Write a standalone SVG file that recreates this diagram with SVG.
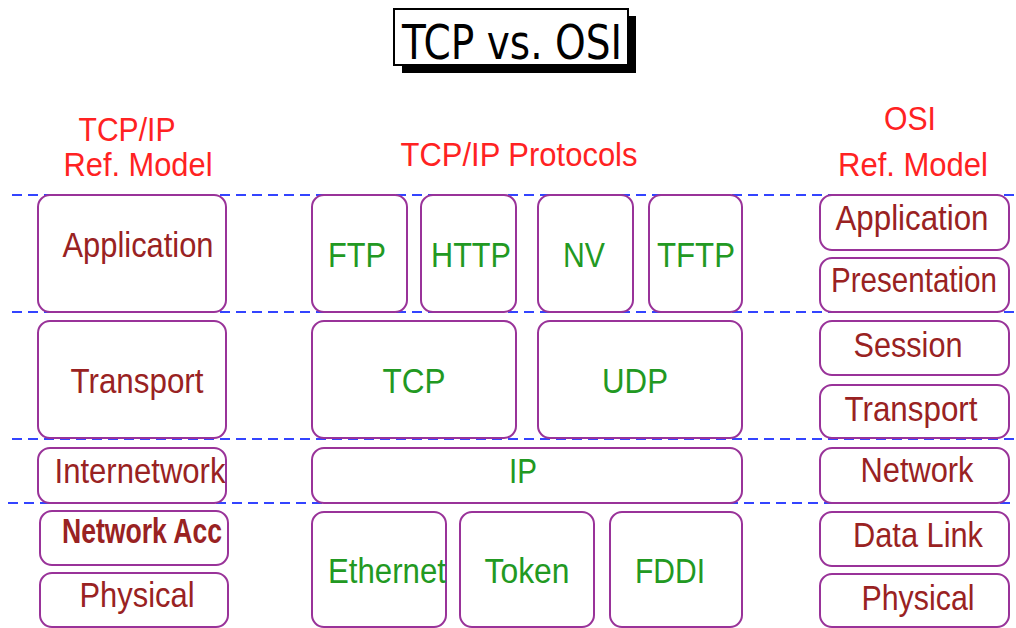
<svg xmlns="http://www.w3.org/2000/svg" width="1016" height="628" viewBox="0 0 1016 628">
  <style>
    .box { fill: #ffffff; stroke: #993399; stroke-width: 2; }
    .layer { stroke: #3344ff; stroke-width: 2; stroke-dasharray: 10 6; fill: none; }
    .lbl { font-family: "Liberation Sans", Arial, sans-serif; font-size: 35px; text-anchor: middle; }
    .ref { fill: #992222; }
    .proto { fill: #229922; }
    .head { font-family: "Liberation Sans", Arial, sans-serif; font-size: 33px; text-anchor: middle; fill: #ff2222; }
  </style>

  <rect width="1016" height="628" fill="#ffffff"/>

  <!-- title -->
  <g id="title">
    <rect x="402" y="16" width="234" height="57" fill="#000000"/>
    <rect x="394" y="9" width="234" height="56" fill="#ffffff" stroke="#000000" stroke-width="2"/>
    <text x="512" y="59" font-family="DejaVu Sans, sans-serif" font-size="48" text-anchor="middle" fill="#000000" textLength="220" lengthAdjust="spacingAndGlyphs">TCP vs. OSI</text>
  </g>

  <!-- column headings -->
  <g id="headings">
    <text class="head" x="127" y="141" textLength="97" lengthAdjust="spacingAndGlyphs">TCP/IP</text>
    <text class="head" x="138" y="176" textLength="149" lengthAdjust="spacingAndGlyphs">Ref. Model</text>
    <text class="head" x="519" y="166" textLength="237" lengthAdjust="spacingAndGlyphs">TCP/IP Protocols</text>
    <text class="head" x="910" y="130" textLength="52" lengthAdjust="spacingAndGlyphs">OSI</text>
    <text class="head" x="913" y="176" textLength="150" lengthAdjust="spacingAndGlyphs">Ref. Model</text>
  </g>

  <!-- layer boundaries -->
  <g id="layer-lines">
    <line class="layer" x1="12" y1="195" x2="1016" y2="195"/>
    <line class="layer" x1="12" y1="312" x2="1016" y2="312"/>
    <line class="layer" x1="12" y1="439" x2="1016" y2="439"/>
    <line class="layer" x1="8" y1="503" x2="1016" y2="503"/>
  </g>

  <!-- TCP/IP reference model -->
  <g id="tcpip-application"><rect class="box" x="38" y="195" width="188" height="117" rx="12"/><text class="lbl ref" x="138" y="257" textLength="151" lengthAdjust="spacingAndGlyphs">Application</text></g>
  <g id="tcpip-transport"><rect class="box" x="38" y="321" width="188" height="117" rx="12"/><text class="lbl ref" x="137" y="393" textLength="133" lengthAdjust="spacingAndGlyphs">Transport</text></g>
  <g id="tcpip-internetwork"><rect class="box" x="38" y="448" width="188" height="55" rx="12"/><text class="lbl ref" x="140" y="483" textLength="171" lengthAdjust="spacingAndGlyphs">Internetwork</text></g>
  <g id="tcpip-netaccess"><rect class="box" x="40" y="511" width="188" height="54" rx="12"/><text class="lbl ref" x="142" y="543" font-size="27" font-weight="bold" textLength="160" lengthAdjust="spacingAndGlyphs">Network Acc</text></g>
  <g id="tcpip-physical"><rect class="box" x="40" y="573" width="188" height="54" rx="12"/><text class="lbl ref" x="137" y="607" textLength="115" lengthAdjust="spacingAndGlyphs">Physical</text></g>

  <!-- protocols -->
  <g id="proto-ftp"><rect class="box" x="312" y="195" width="95" height="117" rx="12"/><text class="lbl proto" x="357" y="267" textLength="58" lengthAdjust="spacingAndGlyphs">FTP</text></g>
  <g id="proto-http"><rect class="box" x="421" y="195" width="95" height="117" rx="12"/><text class="lbl proto" x="471" y="267" textLength="80" lengthAdjust="spacingAndGlyphs">HTTP</text></g>
  <g id="proto-nv"><rect class="box" x="538" y="195" width="95" height="117" rx="12"/><text class="lbl proto" x="584" y="267" textLength="42" lengthAdjust="spacingAndGlyphs">NV</text></g>
  <g id="proto-tftp"><rect class="box" x="649" y="195" width="93" height="117" rx="12"/><text class="lbl proto" x="696" y="267" textLength="78" lengthAdjust="spacingAndGlyphs">TFTP</text></g>
  <g id="proto-tcp"><rect class="box" x="312" y="321" width="204" height="117" rx="12"/><text class="lbl proto" x="414" y="393" textLength="63" lengthAdjust="spacingAndGlyphs">TCP</text></g>
  <g id="proto-udp"><rect class="box" x="538" y="321" width="204" height="117" rx="12"/><text class="lbl proto" x="635" y="393" textLength="66" lengthAdjust="spacingAndGlyphs">UDP</text></g>
  <g id="proto-ip"><rect class="box" x="312" y="448" width="430" height="55" rx="12"/><text class="lbl proto" x="523" y="483" textLength="28" lengthAdjust="spacingAndGlyphs">IP</text></g>
  <g id="proto-ethernet"><rect class="box" x="312" y="512" width="134" height="115" rx="12"/><text class="lbl proto" x="387" y="583" textLength="118" lengthAdjust="spacingAndGlyphs">Ethernet</text></g>
  <g id="proto-token"><rect class="box" x="460" y="512" width="134" height="115" rx="12"/><text class="lbl proto" x="527" y="583" textLength="85" lengthAdjust="spacingAndGlyphs">Token</text></g>
  <g id="proto-fddi"><rect class="box" x="610" y="512" width="132" height="115" rx="12"/><text class="lbl proto" x="670" y="583" textLength="70" lengthAdjust="spacingAndGlyphs">FDDI</text></g>

  <!-- OSI reference model -->
  <g id="osi-application"><rect class="box" x="820" y="195" width="189" height="55" rx="12"/><text class="lbl ref" x="912" y="230" textLength="153" lengthAdjust="spacingAndGlyphs">Application</text></g>
  <g id="osi-presentation"><rect class="box" x="820" y="258" width="189" height="54" rx="12"/><text class="lbl ref" x="914" y="292" font-size="33" textLength="166" lengthAdjust="spacingAndGlyphs">Presentation</text></g>
  <g id="osi-session"><rect class="box" x="820" y="321" width="189" height="54" rx="12"/><text class="lbl ref" x="908" y="357" textLength="109" lengthAdjust="spacingAndGlyphs">Session</text></g>
  <g id="osi-transport"><rect class="box" x="820" y="385" width="189" height="53" rx="12"/><text class="lbl ref" x="911" y="421" textLength="133" lengthAdjust="spacingAndGlyphs">Transport</text></g>
  <g id="osi-network"><rect class="box" x="820" y="448" width="189" height="55" rx="12"/><text class="lbl ref" x="917" y="482" textLength="113" lengthAdjust="spacingAndGlyphs">Network</text></g>
  <g id="osi-datalink"><rect class="box" x="820" y="512" width="189" height="54" rx="12"/><text class="lbl ref" x="918" y="547" textLength="130" lengthAdjust="spacingAndGlyphs">Data Link</text></g>
  <g id="osi-physical"><rect class="box" x="820" y="574" width="189" height="53" rx="12"/><text class="lbl ref" x="918" y="610" textLength="113" lengthAdjust="spacingAndGlyphs">Physical</text></g>
</svg>
